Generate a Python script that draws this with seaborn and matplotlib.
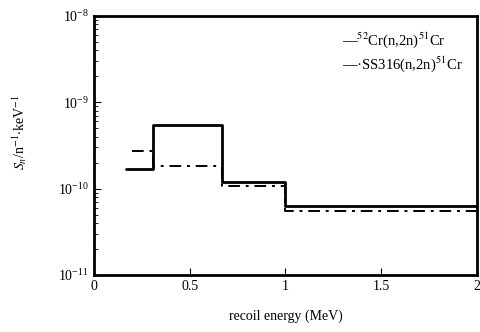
import pandas as pd
import matplotlib
matplotlib.use('Agg')
import matplotlib.pyplot as plt
import matplotlib.ticker as mticker
import seaborn as sns

# bin edges (MeV) and recoil spectra S_n (n^-1 keV^-1)
cr52_edges = [0.17, 0.31, 0.67, 1.0, 2.0]
cr52_values = [1.7e-10, 5.5e-10, 1.2e-10, 6.3e-11]
ss316_edges = [0.20, 0.31, 0.67, 1.0, 2.0]
ss316_values = [2.7e-10, 1.85e-10, 1.08e-10, 5.5e-11]

labels = [r'$^{52}$Cr(n,2n)$^{51}$Cr', r'SS316(n,2n)$^{51}$Cr']
x_ticks = [0, 0.5, 1, 1.5, 2]
x_tick_labels = ['0', '0.5', '1', '1.5', '2']


def steps(edges, values, name):
    return pd.DataFrame({'E': edges, 'S': list(values) + [values[-1]], 'set': name})


df = pd.concat([steps(cr52_edges, cr52_values, labels[0]),
                steps(ss316_edges, ss316_values, labels[1])])

sns.set_style('ticks', {'axes.edgecolor': 'black', 'text.color': 'black',
                        'axes.labelcolor': 'black', 'xtick.color': 'black',
                        'ytick.color': 'black'})
plt.rcParams['font.family'] = ['Liberation Serif', 'DejaVu Serif']
plt.rcParams['mathtext.fontset'] = 'stix'

fig = plt.figure(figsize=(4.81, 3.32), dpi=100)
ax = fig.add_axes([0.195, 0.172, 0.797, 0.78])

sns.lineplot(data=df[df['set'] == labels[0]], x='E', y='S', drawstyle='steps-post',
             color='black', lw=2.0, sort=False, ax=ax, label='\u2014' + labels[0])
sns.lineplot(data=df[df['set'] == labels[1]], x='E', y='S', drawstyle='steps-post',
             color='black', lw=1.4, ls=(0, (6, 3, 1.5, 3)), sort=False, ax=ax,
             label='\u2014\u00b7' + labels[1])

ax.set_yscale('log')
ax.set_ylim(1e-11, 1e-8)
ax.set_xlim(0, 2)
ax.set_xticks(x_ticks)
ax.set_xticklabels(x_tick_labels)
ax.yaxis.set_major_locator(mticker.LogLocator(base=10, numticks=10))
ax.yaxis.set_minor_locator(mticker.LogLocator(base=10, subs=range(2, 10), numticks=10))
ax.yaxis.set_minor_formatter(mticker.NullFormatter())
ax.tick_params(which='both', direction='in', labelsize=10, colors='black')
ax.tick_params(which='major', length=5)
ax.tick_params(which='minor', length=3)
for s in ax.spines.values():
    s.set_linewidth(2.0)
    s.set_color('black')

ax.set_xlabel('recoil energy (MeV)', fontsize=10, labelpad=12)
ax.set_ylabel(r'$S_n$/n$^{-1}$$\cdot$keV$^{-1}$', fontsize=10, labelpad=10)
ax.yaxis.set_label_coords(-0.17, 0.55)

leg = ax.legend(loc='upper right', frameon=False, handlelength=0, handletextpad=0,
                fontsize=10.5, borderaxespad=0.6, labelspacing=0.3)
for h in leg.legend_handles:
    h.set_visible(False)

fig.savefig('out.png', dpi=100)
